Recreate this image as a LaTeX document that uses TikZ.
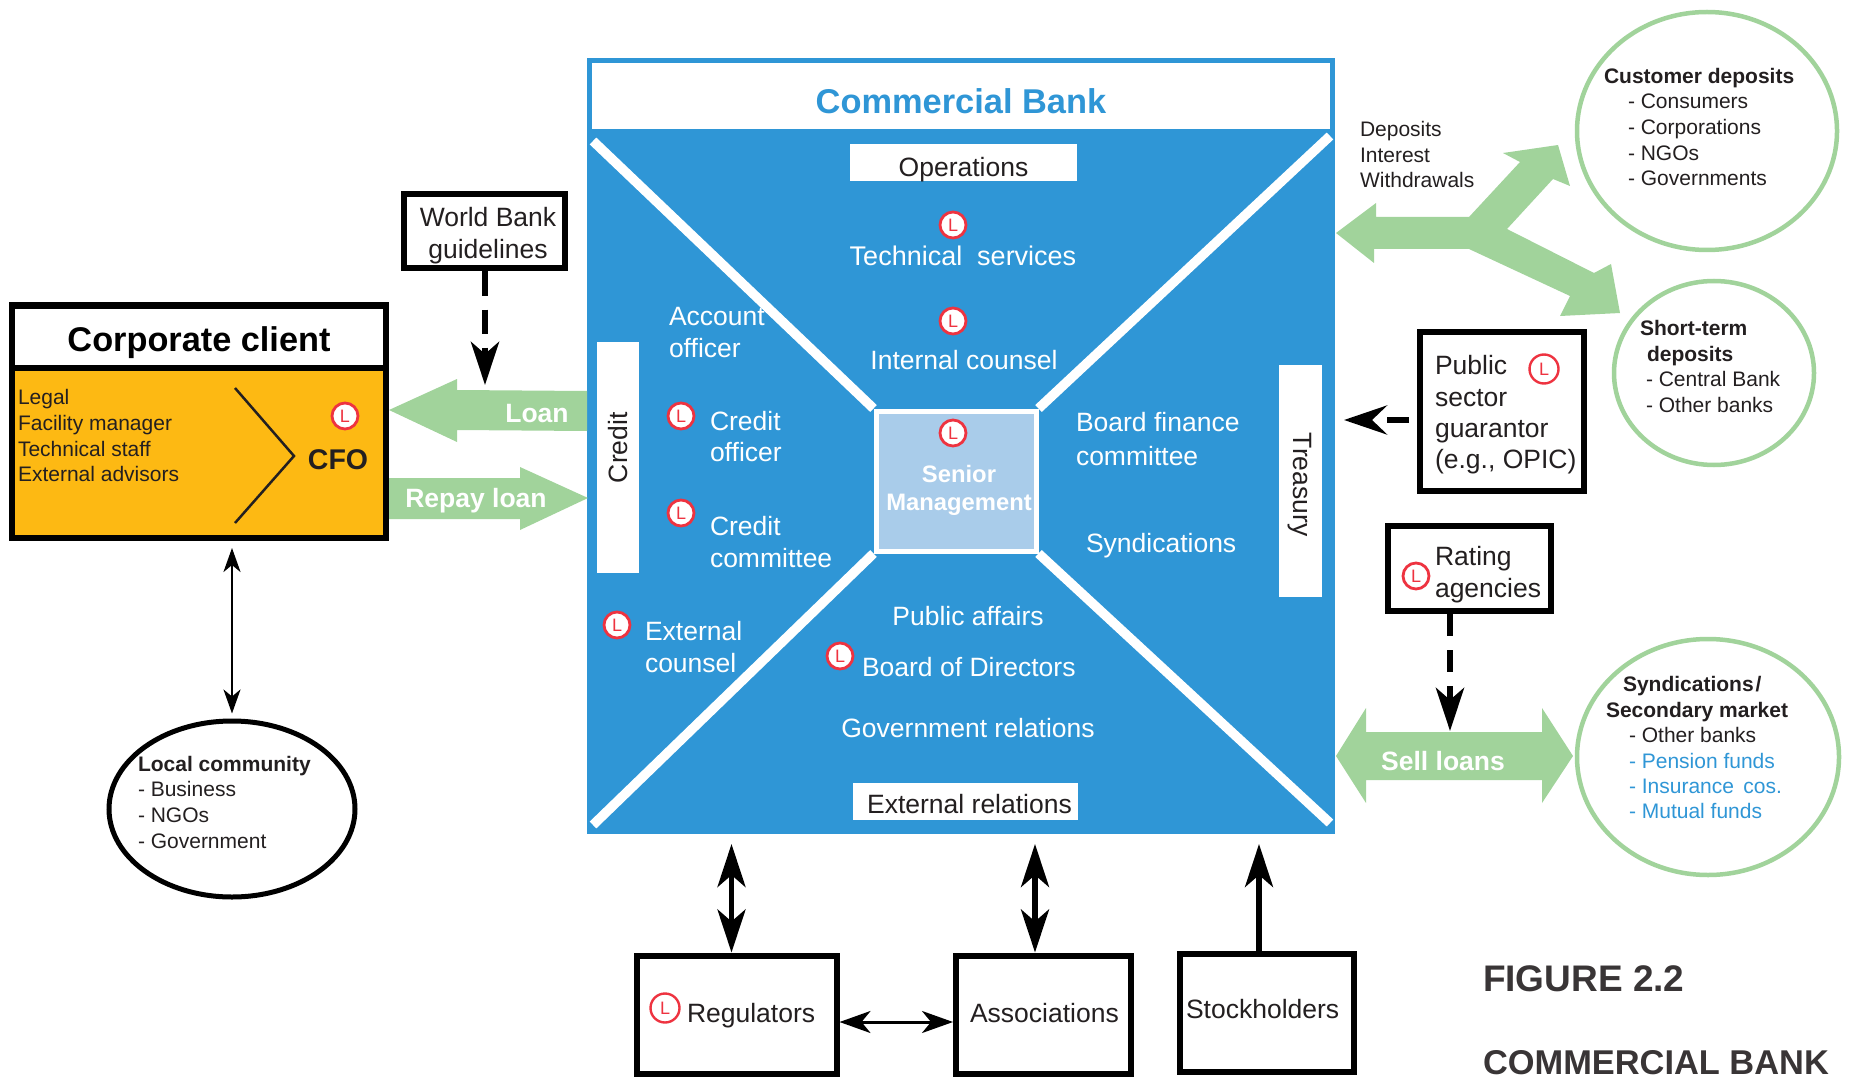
\documentclass[tikz,border=0pt]{standalone}
\usepackage{fontspec}
\setmainfont{Liberation Sans}
\usetikzlibrary{arrows.meta,shapes.geometric}
\definecolor{bankblue}{HTML}{2F96D6}
\definecolor{lightblue}{HTML}{A9CCEA}
\definecolor{flowgreen}{HTML}{A1D39B}
\definecolor{clientyellow}{HTML}{FDB913}
\definecolor{ink}{HTML}{231F20}
\definecolor{badgered}{HTML}{EE3340}
\tikzset{
  bighead/.tip={Stealth[length=43pt,width=28pt,inset=12pt]},
  midhead/.tip={Stealth[length=31pt,width=22pt,inset=9pt]},
  smallhead/.tip={Stealth[length=24pt,width=17pt,inset=7pt]},
  txt/.style={inner sep=0pt,outer sep=0pt,text=ink,anchor=base west,yshift=-0.7pt,font=\fontsize{26.5pt}{30pt}\selectfont},
  txtc/.style={txt,anchor=base},
  white text/.style={text=white},
  small/.style={font=\fontsize{21pt}{26pt}\selectfont},
  smallb/.style={font=\fontsize{21pt}{26pt}\selectfont\bfseries},
  bold26/.style={font=\fontsize{26.5pt}{30pt}\selectfont\bfseries},
  blackbox/.style={draw=black,fill=white,line width=6pt,rectangle,inner sep=0pt},
  whitebar/.style={fill=white,rectangle,inner sep=0pt},
  greenring/.style={draw=flowgreen,fill=white,line width=4.5pt,ellipse,inner sep=0pt},
  badge/.style={circle,draw=badgered,fill=white,line width=2.8pt,minimum size=26pt,inner sep=0pt,
    text=badgered,font=\fontsize{18pt}{18pt}\selectfont},
  diag/.style={draw=white,line width=9.5pt},
  blockflow/.style={fill=flowgreen},
}
\begin{document}
\begin{tikzpicture}[x=1pt,y=-1pt]
\useasboundingbox (0,0) rectangle (1849,1083);

% ---- Commercial bank ----
\node[rectangle,draw=bankblue,fill=bankblue,line width=5pt,minimum width=742.5pt,minimum height=770.5pt,inner sep=0pt] (bank) at (960.75,445.75) {};
\node[rectangle,draw=bankblue,fill=white,line width=5pt,minimum width=742.5pt,minimum height=71pt,inner sep=0pt] (bankhead) at (960.75,96) {};
\node[txtc,text=bankblue,font=\fontsize{34.4pt}{40pt}\selectfont\bfseries] (banktitle) at (961,113) {Commercial Bank};

\node[rectangle,draw=white,fill=lightblue,line width=5pt,minimum width=160pt,minimum height=140pt,inner sep=0pt] (senior) at (956,481) {};
\coordinate (dnw) at (593,141);
\coordinate (dne) at (1330,136);
\coordinate (dsw) at (593,825);
\coordinate (dse) at (1330,823);
\draw[diag] (senior.north west) -- (dnw);
\draw[diag] (senior.north east) -- (dne);
\draw[diag] (senior.south west) -- (dsw);
\draw[diag] (senior.south east) -- (dse);
\node[txtc,white text,font=\fontsize{23.8pt}{28pt}\selectfont\bfseries] (seniorA) at (959,482) {Senior};
\node[txtc,white text,font=\fontsize{23.8pt}{28pt}\selectfont\bfseries] (seniorB) at (959,510) {Management};

\node[whitebar,minimum width=227pt,minimum height=37pt] (opsbar) at (963.5,162.5) {};
\node[txtc] (ops) at (963.5,176) {Operations};
\node[whitebar,minimum width=225pt,minimum height=37pt] (extbar) at (965.5,801.5) {};
\node[txtc] (ext) at (969.5,813) {External relations};
\node[whitebar,minimum width=42pt,minimum height=231pt] (creditbar) at (618,457.5) {};
\node[txt,anchor=center,rotate=90] (credit) at (618,447) {Credit};
\node[whitebar,minimum width=43pt,minimum height=232pt] (treasbar) at (1300.5,481) {};
\node[txt,anchor=center,rotate=-90] (treas) at (1300,484) {Treasury};

\node[txtc,white text,font=\fontsize{27pt}{30pt}\selectfont] (tech) at (963,265) {Technical\ \ services};
\node[txtc,white text] (intc) at (964,369) {Internal counsel};
\node[txt,white text] (acc1) at (669,325) {Account};
\node[txt,white text] (acc2) at (669,357) {officer};
\node[txt,white text] (co1) at (710,430) {Credit};
\node[txt,white text] (co2) at (710,461) {officer};
\node[txt,white text] (cc1) at (710,535) {Credit};
\node[txt,white text] (cc2) at (710,567) {committee};
\node[txt,white text] (ec1) at (645,640) {External};
\node[txt,white text] (ec2) at (645,672) {counsel};
\node[txt,white text] (bf1) at (1076,431) {Board finance};
\node[txt,white text] (bf2) at (1076,465) {committee};
\node[txt,white text] (synd) at (1086,552) {Syndications};
\node[txtc,white text] (pub) at (968,625) {Public affairs};
\node[txt,white text] (bod) at (862,676) {Board of Directors};
\node[txtc,white text] (gov) at (968,737) {Government relations};

\node[badge] (Ltech) at (953,225) {L};
\node[badge] (Lint) at (953,321) {L};
\node[badge] (Lsen) at (953,433) {L};
\node[badge] (Lco) at (681,416) {L};
\node[badge] (Lcc) at (681,513) {L};
\node[badge] (Lec) at (617,625) {L};
\node[badge] (Lbod) at (840,656) {L};

% ---- Corporate client ----
\node[rectangle,draw=black,fill=clientyellow,line width=6pt,minimum width=374pt,minimum height=233pt,inner sep=0pt] (client) at (199,421.5) {};
\node[rectangle,draw=black,fill=white,line width=6pt,minimum width=374pt,minimum height=62pt,inner sep=0pt] (clienthead) at (199,337) {};
\node[txtc,text=black,font=\fontsize{34.3pt}{40pt}\selectfont\bfseries] (clienttitle) at (199,351) {Corporate client};
\node[txt,small] (c1) at (18,404) {Legal};
\node[txt,small] (c2) at (18,430) {Facility manager};
\node[txt,small] (c3) at (18,456) {Technical staff};
\node[txt,small] (c4) at (18,481) {External advisors};
\coordinate (cha) at (235,388);
\coordinate (chb) at (294,456);
\coordinate (chc) at (235,523);
\draw[ink,line width=2.5pt] (cha) -- (chb) -- (chc);
\node[txtc,font=\fontsize{28.5pt}{32pt}\selectfont\bfseries] (cfo) at (338,469) {CFO};
\node[badge] (Lcfo) at (345,416) {L};

% ---- World Bank ----
\node[blackbox,minimum width=161pt,minimum height=74pt] (wb) at (484,231.5) {};
\node[txtc] (wb1) at (488,226) {World Bank};
\node[txtc] (wb2) at (488,258) {guidelines};
\coordinate (wbend) at (485,385);
\draw[line width=6.5pt,black,dash pattern=on 24pt off 14pt,-bighead] (wb.south -| wbend) -- (wbend);

% ---- Loan arrows ----
\fill[blockflow] (389,410) -- (457,379) -- (457,390) -- (587,391) -- (587,431) -- (457,430) -- (457,442) -- cycle;
\node[txtc,white text,bold26] (loan) at (537,422) {Loan};
\fill[blockflow] (389,478) -- (520,478) -- (520,467) -- (588,498) -- (520,530) -- (520,519) -- (389,519) -- cycle;
\node[txtc,white text,bold26] (repay) at (476,507) {Repay loan};

% ---- Local community ----
\node[draw=black,fill=white,line width=5pt,ellipse,minimum width=246pt,minimum height=176pt,inner sep=0pt] (local) at (232,809) {};
\node[txt,smallb] (l1) at (138,771) {Local community};
\node[txt,small] (l2) at (138,796) {- Business};
\node[txt,small] (l3) at (138,822) {- NGOs};
\node[txt,small] (l4) at (138,848) {- Government};
\coordinate (localtop) at (232,548);
\draw[black,line width=2.5pt,smallhead-smallhead,shorten >=5pt] (localtop) -- (local.north);

% ---- Deposits ----
\fill[blockflow] (1336,233) -- (1376,203) -- (1376,217) -- (1469,217) -- (1520,162) -- (1503,153) -- (1558,145) -- (1570,186) -- (1553,179) -- (1507,229) -- (1594,273) -- (1611,264) -- (1620,313) -- (1560,316) -- (1570,296) -- (1469,249) -- (1374,249) -- (1374,263) -- cycle;
\node[txt,small] (d1) at (1360,136) {Deposits};
\node[txt,small] (d2) at (1360,162) {Interest};
\node[txt,small] (d3) at (1360,187) {Withdrawals};

\node[greenring,minimum width=260pt,minimum height=238pt] (cust) at (1707,131) {};
\node[txt,smallb] (cu0) at (1604,83) {Customer deposits};
\node[txt,small] (cu1) at (1628,108) {- Consumers};
\node[txt,small] (cu2) at (1628,134) {- Corporations};
\node[txt,small] (cu3) at (1628,160) {- NGOs};
\node[txt,small] (cu4) at (1628,185) {- Governments};

\node[greenring,minimum width=200pt,minimum height=184pt] (short) at (1714,373) {};
\node[txt,smallb] (st1) at (1640,335) {Short-term};
\node[txt,smallb] (st2) at (1647,361) {deposits};
\node[txt,small] (st3) at (1646,386) {- Central Bank};
\node[txt,small] (st4) at (1646,412) {- Other banks};

% ---- Public sector guarantor ----
\node[blackbox,minimum width=164pt,minimum height=159pt] (guar) at (1501.5,411.5) {};
\node[txt] (g1) at (1435,374) {Public};
\node[txt] (g2) at (1435,406) {sector};
\node[txt] (g3) at (1435,437) {guarantor};
\node[txt] (g4) at (1435,468) {(e.g., OPIC)};
\node[badge,line width=2.4pt,minimum size=29pt,fill=none] (Lg) at (1544,369) {L};
\coordinate (gend) at (1344,420);
\coordinate (gstart) at (1409,420);
\draw[black,line width=6pt,dash pattern=on 22pt off 100pt,-{Stealth[length=43pt,width=29pt,inset=15pt]}] (gstart) -- (gend);

% ---- Rating agencies ----
\node[blackbox,minimum width=163pt,minimum height=85pt] (rate) at (1469,568.5) {};
\node[txt] (r1) at (1435,565) {Rating};
\node[txt] (r2) at (1435,597) {agencies};
\node[badge] (Lr) at (1416,576) {L};
\coordinate (rend) at (1450,731);
\draw[line width=6.5pt,black,dash pattern=on 22pt off 14pt,-bighead] (rate.south -| rend) -- (rend);

% ---- Sell loans ----
\fill[blockflow] (1336,756) -- (1366,708) -- (1366,732) -- (1542,732) -- (1542,708) -- (1573,756) -- (1542,803) -- (1542,780) -- (1366,780) -- (1366,803) -- cycle;
\node[txtc,white text,bold26] (sell) at (1443,770) {Sell loans};

\node[greenring,minimum width=262pt,minimum height=236pt] (sec) at (1708,757) {};
\node[txt,smallb] (s1) at (1623,691) {Syndications\kern2pt/};
\node[txt,smallb] (s2) at (1606,717) {Secondary market};
\node[txt,small] (s3) at (1629,742) {- Other banks};
\node[txt,small,text=bankblue] (s4) at (1629,768) {- Pension funds};
\node[txt,small,text=bankblue] (s5) at (1629,793) {- Insurance\ \,cos.};
\node[txt,small,text=bankblue] (s6) at (1629,818) {- Mutual funds};

% ---- Bottom boxes ----
\node[blackbox,minimum width=200pt,minimum height=118pt] (reg) at (736.5,1014.5) {};
\node[blackbox,minimum width=175pt,minimum height=118pt] (assoc) at (1043.5,1014.5) {};
\node[blackbox,minimum width=174pt,minimum height=118pt] (stock) at (1267,1013) {};
\node[txt] (regt) at (687,1022) {Regulators};
\node[txt] (assoct) at (970,1022) {Associations};
\node[txt] (stockt) at (1186,1018) {Stockholders};
\node[badge,fill=none,line width=2.4pt,minimum size=29pt] (Lreg) at (665,1008) {L};
\coordinate (regup) at (731.5,844);
\coordinate (assocup) at (1035,844);
\coordinate (stockup) at (1259,844);
\draw[black,line width=5.5pt,bighead-bighead] (regup) -- (regup |- reg.north);
\draw[black,line width=5.5pt,bighead-bighead] (assocup) -- (assocup |- assoc.north);
\draw[black,line width=5.5pt,-bighead] (stockup |- stock.north) -- (stockup);
\draw[black,line width=3pt,midhead-midhead] (reg.east |- 0,1022) -- (assoc.west |- 0,1022);

% ---- Figure caption ----
\node[txt,text=ink!90,font=\fontsize{37pt}{42pt}\selectfont\bfseries] (fig1) at (1483,991) {FIGURE 2.2};
\node[txt,text=ink!90,font=\fontsize{34.4pt}{40pt}\selectfont\bfseries] (fig2) at (1483,1074) {COMMERCIAL BANK};
\end{tikzpicture}
\end{document}
